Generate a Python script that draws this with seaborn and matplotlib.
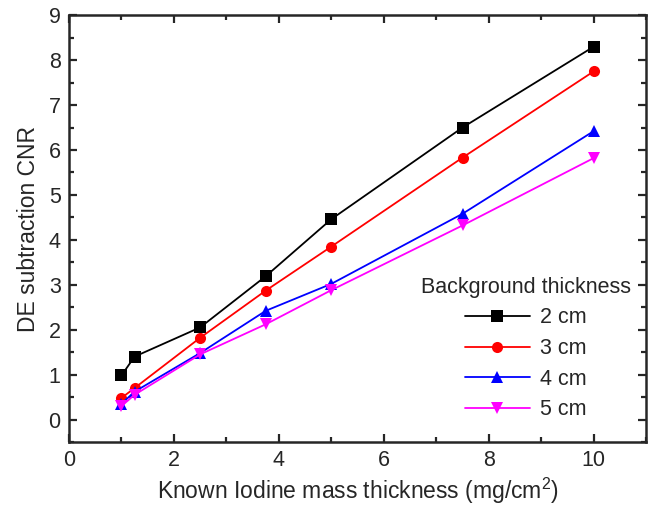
import matplotlib
matplotlib.use("Agg")
import matplotlib.pyplot as plt
import seaborn as sns
import pandas as pd
from matplotlib.ticker import MultipleLocator

x_vals = [1, 1.25, 2.5, 3.75, 5, 7.5, 10]
cm2 = [0.98, 1.40, 2.05, 3.19, 4.46, 6.50, 8.30]
cm3 = [0.48, 0.70, 1.82, 2.87, 3.85, 5.83, 7.75]
cm4 = [0.35, 0.62, 1.48, 2.42, 3.02, 4.58, 6.42]
cm5 = [0.30, 0.55, 1.45, 2.12, 2.88, 4.32, 5.82]
labels = ["2 cm", "3 cm", "4 cm", "5 cm"]
colors = ["#000000", "#ff0000", "#0000ff", "#ff00ff"]
markers = ["s", "o", "^", "v"]

rows = []
for lab, ser in zip(labels, [cm2, cm3, cm4, cm5]):
    for xv, yv in zip(x_vals, ser):
        rows.append({"x": xv, "y": yv, "Background thickness": lab})
df = pd.DataFrame(rows)

sns.set_style("ticks")
plt.rcParams['font.family'] = ['Liberation Sans', 'DejaVu Sans']
plt.rcParams['mathtext.fontset'] = 'custom'
plt.rcParams['mathtext.rm'] = 'Liberation Sans'

fig = plt.figure(figsize=(6.54, 5.08), dpi=100)
ax = fig.add_axes([0.1055, 0.13, 0.8825, 0.84])

sns.lineplot(data=df, x="x", y="y", hue="Background thickness",
             style="Background thickness",
             palette=dict(zip(labels, colors)),
             markers=dict(zip(labels, markers)),
             dashes=False, ax=ax, linewidth=1.3, markersize=8,
             markeredgewidth=0)

ax.set_xlim(0, 11)
ax.set_ylim(-0.5, 9)
ax.xaxis.set_major_locator(MultipleLocator(2))
ax.xaxis.set_minor_locator(MultipleLocator(1))
ax.yaxis.set_major_locator(MultipleLocator(1))
ax.yaxis.set_minor_locator(MultipleLocator(0.5))
ax.tick_params(which="both", direction="in", top=True, right=True,
               labelsize=15.5, width=1.6)
ax.tick_params(which="major", length=6, pad=6)
ax.tick_params(which="minor", length=3.5)
for s in ax.spines.values():
    s.set_linewidth(1.8)
ax.set_xlabel("Known Iodine mass thickness (mg/cm$\\mathregular{^{2}}$)", fontsize=16.5)
ax.set_ylabel("DE subtraction CNR", fontsize=16.5)
ax.xaxis.labelpad = 3
ax.yaxis.labelpad = 6

leg = ax.legend(title="Background thickness", loc="lower right",
                bbox_to_anchor=(1.0, 0.015), frameon=False, fontsize=15.5,
                title_fontsize=15.5, handlelength=3.0, labelspacing=0.45,
                handletextpad=0.5, borderaxespad=0.3)
for h in leg.legend_handles:
    h.set_markersize(8)

fig.savefig("out.png", dpi=100)
